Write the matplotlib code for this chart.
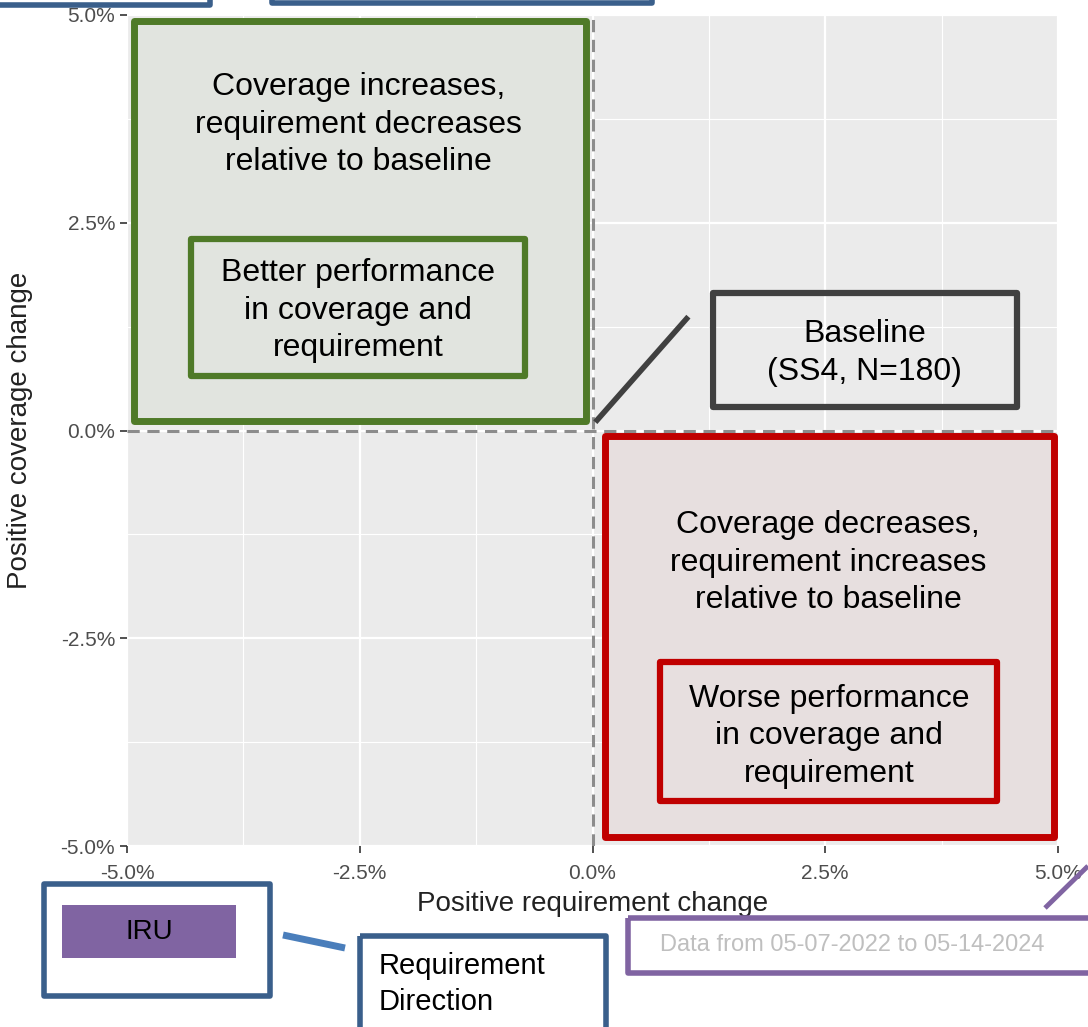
import numpy as np
import matplotlib
matplotlib.use('Agg')
import matplotlib.pyplot as plt
from matplotlib.patches import Rectangle

plt.rcParams['font.family'] = ['Liberation Sans', 'DejaVu Sans']

# axis ticks
ticks = [-5.0, -2.5, 0.0, 2.5, 5.0]
tick_labels = ['-5.0%', '-2.5%', '0.0%', '2.5%', '5.0%']
minor_ticks = [-3.75, -1.25, 1.25, 3.75]
x_title = 'Positive requirement change'
y_title = 'Positive coverage change'

# quadrant notes
better_outer = 'Coverage increases,\nrequirement decreases\nrelative to baseline'
better_inner = 'Better performance\nin coverage and\nrequirement'
worse_outer = 'Coverage decreases,\nrequirement increases\nrelative to baseline'
worse_inner = 'Worse performance\nin coverage and\nrequirement'
baseline_txt = 'Baseline\n(SS4, N=180)'
date_txt = 'Data from 05-07-2022 to 05-14-2024'
group_txt = 'IRU'
dir_txt = 'Requirement\nDirection'

GREEN = '#4f7a28'
RED = '#c00000'
DARK = '#404040'
BLUE = '#3a5f8b'
LBLUE = '#4a7ebb'
PURPLE = '#8064a2'

W, H = 1088, 1027
fig = plt.figure(figsize=(W / 100, H / 100), dpi=100)
ax = fig.add_axes([127 / W, 1 - 846 / H, 931 / W, 831 / H])
ax.set_facecolor('#ebebeb')
ax.set_xlim(-5, 5)
ax.set_ylim(-5, 5)
ax.set_xticks(ticks)
ax.set_xticklabels(tick_labels)
ax.set_yticks(ticks)
ax.set_yticklabels(tick_labels)
ax.set_xticks(minor_ticks, minor=True)
ax.set_yticks(minor_ticks, minor=True)
ax.tick_params(which='major', colors='#333333', labelcolor='#4d4d4d',
               labelsize=15, length=5, width=1.2)
ax.tick_params(axis='x', which='major', pad=8)
ax.tick_params(which='minor', length=0)
ax.grid(which='major', color='white', lw=1.6)
ax.grid(which='minor', color='white', lw=0.8)
ax.set_axisbelow(True)
for s in ax.spines.values():
    s.set_visible(False)
ax.set_xlabel(x_title, fontsize=20, color='#222222', labelpad=6)
ax.set_ylabel(y_title, fontsize=20, color='#222222', labelpad=20)

ax.axvline(0, color='#8c8c8c', lw=2.2, ls=(0, (4, 2.5)), zorder=1)
ax.axhline(0, color='#8c8c8c', lw=2.2, ls=(0, (4, 2.5)), zorder=1)


def box(x0, x1, y0, y1, ec, fc='none', lw=5):
    ax.add_patch(Rectangle((x0, y0), x1 - x0, y1 - y0, fc=fc, ec=ec, lw=lw,
                           joinstyle='round', zorder=3, clip_on=False))


def note(x, y, s):
    ax.text(x, y, s, ha='center', va='center', fontsize=23, linespacing=1.33, zorder=4)


# better quadrant
box(-4.925, -0.075, 0.12, 4.93, GREEN, fc='#e1e4df')
box(-4.31, -0.72, 0.65, 2.31, GREEN, lw=4.5)
note(-2.51, 3.68, better_outer)
note(-2.52, 1.44, better_inner)

# worse quadrant
box(0.13, 4.96, -4.89, -0.07, RED, fc='#e7dfdf')
box(0.73, 4.35, -4.46, -2.79, RED, lw=4.5)
note(2.53, -1.59, worse_outer)
note(2.54, -3.68, worse_inner)

# baseline callout
box(1.29, 4.56, 0.28, 1.65, DARK, lw=4.5)
note(2.92, 0.93, baseline_txt)
ax.plot([0.03, 1.03], [0.10, 1.37], color=DARK, lw=4, solid_capstyle='butt', zorder=4)

# slide elements around the chart, in pixel coords
ov = fig.add_axes([0, 0, 1, 1])
ov.set_xlim(0, W)
ov.set_ylim(H, 0)
ov.axis('off')
ov.patch.set_alpha(0)


def pbox(x0, x1, y0, y1, ec, fc='none', lw=4):
    ov.add_patch(Rectangle((x0, y0), x1 - x0, y1 - y0, fc=fc, ec=ec, lw=lw,
                           joinstyle='round'))


pbox(-20, 210, -60, 5, BLUE)
pbox(272, 652, -60, 3, BLUE)
pbox(44, 270, 884, 996, BLUE)
ov.add_patch(Rectangle((62, 905), 174, 53, fc=PURPLE, ec='none'))
ov.text(149, 932, group_txt, ha='center', va='center', fontsize=20)
ov.plot([283, 345], [935, 948], color=LBLUE, lw=5, solid_capstyle='butt')
pbox(360, 606, 936, 1060, BLUE)
ov.text(379, 984, dir_txt, ha='left', va='center', fontsize=21, linespacing=1.4)
pbox(628, 1110, 918, 973, PURPLE)
ov.text(660, 945, date_txt, ha='left', va='center', fontsize=17, color='#bfbfbf')
ov.plot([1045, 1088], [908, 866], color=PURPLE, lw=3.5, solid_capstyle='butt')

fig.savefig('out.png', dpi=100)
